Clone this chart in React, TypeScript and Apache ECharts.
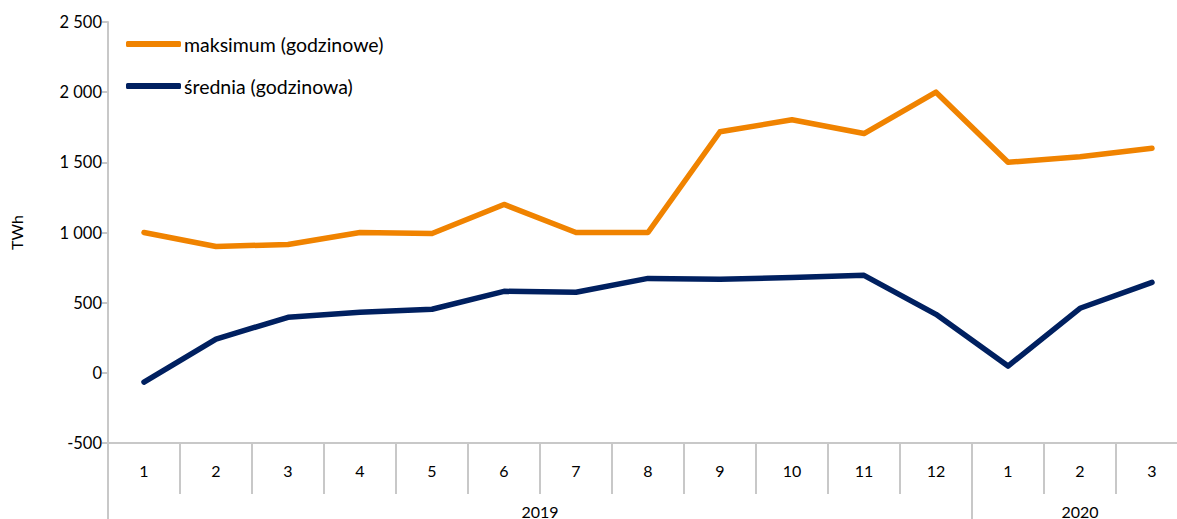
import React, { useEffect, useRef } from "react";
import * as echarts from "echarts";

const months = ["1", "2", "3", "4", "5", "6", "7", "8", "9", "10", "11", "12", "1", "2", "3"];
const years = ["2019", "2020"];
const monthsPerYear = [12, 3];
const maksimum = [1000, 900, 915, 1000, 993, 1200, 1000, 1000, 1718, 1803, 1705, 2000, 1500, 1540, 1600];
const srednia = [-66, 240, 396, 431, 453, 581, 574, 673, 666, 680, 695, 417, 48, 460, 645];
const seriesNames = ["maksimum (godzinowe)", "średnia (godzinowa)"];

const FONT = "Lato";

function buildYearAxis() {
  const total = monthsPerYear.reduce((a, b) => a + b, 0);
  const labels: string[] = new Array(total * 2 + 1).fill("");
  const boundaries: number[] = [0];
  let start = 0;
  years.forEach((y, i) => {
    const n = monthsPerYear[i];
    labels[start * 2 + n] = y;
    start += n;
    boundaries.push(start * 2);
  });
  return { labels, boundaries };
}

export default function App() {
  const ref = useRef<HTMLDivElement>(null);
  useEffect(() => {
    if (!ref.current) return;
    const chart = echarts.init(ref.current, null, { renderer: "svg" });
    const { labels, boundaries } = buildYearAxis();
    chart.setOption({
      animation: false,
      textStyle: { fontFamily: FONT },
      grid: { left: 108, right: 1, top: 22, bottom: 75, containLabel: false },
      legend: {
        orient: "vertical",
        left: 126,
        top: 33,
        padding: 0,
        itemWidth: 55,
        itemHeight: 6,
        itemGap: 20,
        icon: "roundRect",
        textStyle: { fontFamily: FONT, fontSize: 19.5, color: "#000", lineHeight: 22, padding: [0, 0, 0, -2] },
        data: seriesNames,
      },
      xAxis: [
        {
          type: "category",
          data: months,
          boundaryGap: true,
          position: "bottom",
          axisLine: { show: true, onZero: false, lineStyle: { color: "#c8c8c8", width: 2 } },
          axisTick: { show: true, interval: 0, length: 51, lineStyle: { color: "#c8c8c8", width: 2 } },
          axisLabel: { interval: 0, margin: 19, fontSize: 16, color: "#000", fontFamily: FONT },
        },
        {
          type: "category",
          data: labels,
          boundaryGap: false,
          position: "bottom",
          axisLine: { show: false, onZero: false },
          axisTick: {
            show: true,
            length: 90,
            interval: (idx: number) => boundaries.indexOf(idx) >= 0,
            lineStyle: { color: "#c8c8c8", width: 2 },
          },
          axisLabel: {
            interval: (idx: number, v: string) => v !== "",
            margin: 60,
            fontSize: 16,
            color: "#000",
            fontFamily: FONT,
          },
        },
      ],
      yAxis: {
        type: "value",
        min: -500,
        max: 2500,
        interval: 500,
        name: "TWh",
        nameLocation: "middle",
        nameRotate: 90,
        nameGap: 84,
        nameTextStyle: { fontSize: 16, color: "#000", fontFamily: FONT },
        axisLine: { show: true, onZero: false, lineStyle: { color: "#c8c8c8", width: 2 } },
        axisTick: { show: true, length: 6, lineStyle: { color: "#c8c8c8", width: 2 } },
        splitLine: { show: false },
        axisLabel: {
          margin: 6,
          fontSize: 16.5,
          color: "#000",
          fontFamily: FONT,
          formatter: (v: number) => {
            const s = Math.abs(v).toString().replace(/\B(?=(\d{3})+(?!\d))/g, " ");
            return (v < 0 ? "-" : "") + s;
          },
        },
      },
      series: [
        {
          name: seriesNames[0],
          type: "line",
          data: maksimum,
          symbol: "none",
          lineStyle: { color: "#F08300", width: 5.5, cap: "round", join: "round" },
          itemStyle: { color: "#F08300" },
        },
        {
          name: seriesNames[1],
          type: "line",
          data: srednia,
          symbol: "none",
          lineStyle: { color: "#002060", width: 5.5, cap: "round", join: "round" },
          itemStyle: { color: "#002060" },
        },
      ],
    });
    return () => chart.dispose();
  }, []);
  return (
    <div
      style={{ position: "absolute", left: 0, top: 0, width: 1177, height: 519, overflow: "hidden", background: "#fff" }}
    >
      <div ref={ref} style={{ width: 1189, height: 519 }} />
    </div>
  );
}
